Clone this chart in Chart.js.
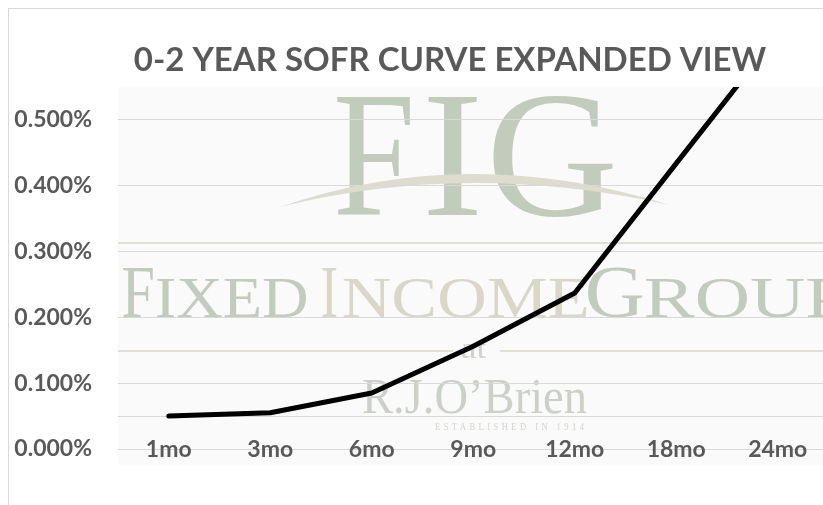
<!DOCTYPE html>
<html>
<head>
<meta charset="utf-8">
<script src="https://cdn.jsdelivr.net/npm/chart.js@4/dist/chart.umd.min.js"></script>
<style>
  html, body { margin: 0; padding: 0; background: #fff; overflow: hidden; }
  #wrap { position: absolute; left: 8px; top: 8px; width: 884px; height: 540px; border: 1px solid #d9d9d9; }
</style>
</head>
<body>
<div id="wrap"><canvas id="chart" width="884" height="540"></canvas></div>
<script>
// data
const tenors = ["1mo", "3mo", "6mo", "9mo", "12mo", "18mo", "24mo"];
const sofrRates = [0.050, 0.055, 0.085, 0.156, 0.237, 0.434, 0.630];
const yTicks = [0, 0.1, 0.2, 0.3, 0.4, 0.5];
const yMax = 0.55;

const textGray = "#595959";
const gridGray = "#d9d9d9";
const sage = "#c1ccbc";
const beige = "#dad7c8";
const serif = '"Liberation Serif", "DejaVu Serif", serif';

// draw text so its ink fits between inkLeft and inkLeft + inkWidth
function drawInk(ctx, text, font, color, inkLeft, baseline, inkWidth, spacing) {
  ctx.save();
  ctx.font = font;
  if (spacing) ctx.letterSpacing = spacing;
  const m = ctx.measureText(text);
  const w = m.actualBoundingBoxLeft + m.actualBoundingBoxRight;
  ctx.translate(inkLeft, baseline);
  ctx.scale(inkWidth / w, 1);
  ctx.fillStyle = color;
  ctx.textAlign = "left";
  ctx.textBaseline = "alphabetic";
  ctx.fillText(text, m.actualBoundingBoxLeft, 0);
  ctx.restore();
}

// the FIG logo sitting behind the plot area
const watermark = {
  id: "watermark",
  afterLayout(chart) {
    // title is centred on the whole (cropped) chart box, not on the plot
    const t = chart.titleBlock;
    if (t) { t.left = 0; t.right = chart.width - 2; t.width = t.right; }
  },
  beforeDraw(chart) {
    const ctx = chart.ctx;
    const ca = chart.chartArea;
    const y = chart.scales.y;
    ctx.save();
    ctx.fillStyle = "#fafafa";
    ctx.fillRect(ca.left, ca.top, chart.width - ca.left, 456 - ca.top);

    // big FIG
    drawInk(ctx, "F", "180px " + serif, sage, 328, 206, 73);
    drawInk(ctx, "I", "180px " + serif, sage, 419, 206, 49);
    drawInk(ctx, "G", "180px " + serif, sage, 484, 206, 120);

    // swoosh
    ctx.fillStyle = "#dedbcf";
    ctx.beginPath();
    ctx.moveTo(271, 198);
    ctx.quadraticCurveTo(458, 133, 661, 196);
    ctx.quadraticCurveTo(458, 151, 271, 198);
    ctx.fill();

    // thin logo rules
    ctx.strokeStyle = "#e3dfd3";
    ctx.lineWidth = 2;
    ctx.beginPath();
    ctx.moveTo(ca.left, 234); ctx.lineTo(chart.width, 234);
    ctx.moveTo(ca.left, 342); ctx.lineTo(444, 342);
    ctx.moveTo(491, 342); ctx.lineTo(chart.width, 342);
    ctx.stroke();

    // FIXEDINCOMEGROUP in small caps
    drawInk(ctx, "F", "74px " + serif, sage, 114, 308, 30);
    drawInk(ctx, "IXED", "56px " + serif, sage, 148, 308, 150);
    drawInk(ctx, "I", "74px " + serif, beige, 313, 308, 15);
    drawInk(ctx, "NCOME", "56px " + serif, beige, 334, 308, 244);
    drawInk(ctx, "G", "74px " + serif, sage, 579, 308, 55);
    drawInk(ctx, "ROUP", "56px " + serif, sage, 636, 308, 200);

    drawInk(ctx, "at", "30px " + serif, "#cdd3c8", 453, 349, 25);
    drawInk(ctx, "R.J.O\u2019Brien", "50px " + serif, "#cbd1c6", 354, 404, 224);
    drawInk(ctx, "ESTABLISHED IN 1914", "10px " + serif, "#d2d6cd", 426, 421, 149, "4px");

    // faint rule at 0.05%
    const y05 = Math.round(y.getPixelForValue(0.05)) + 0.5;
    ctx.strokeStyle = gridGray;
    ctx.lineWidth = 1;
    ctx.beginPath();
    ctx.moveTo(ca.left, y05); ctx.lineTo(ca.right, y05);
    ctx.stroke();
    ctx.restore();
  }
};

new Chart(document.getElementById("chart").getContext("2d"), {
  type: "line",
  data: {
    labels: tenors,
    datasets: [{
      label: "SOFR",
      data: sofrRates,
      borderColor: "#000000",
      borderWidth: 5,
      pointRadius: 0,
      tension: 0,
      borderJoinStyle: "round",
      borderCapStyle: "round",
      fill: false
    }]
  },
  options: {
    responsive: false,
    animation: false,
    layout: { padding: { left: 0, right: 64.5, top: 0, bottom: 70 } },
    plugins: {
      legend: { display: false },
      tooltip: { enabled: false },
      title: {
        display: true,
        text: "0-2 YEAR SOFR CURVE EXPANDED VIEW",
        color: textGray,
        font: { family: "Lato", size: 33, weight: "bold" },
        padding: { top: 32, bottom: 6.4 }
      }
    },
    scales: {
      x: {
        offset: true,
        grid: { display: false },
        border: { display: false },
        ticks: {
          color: textGray,
          font: { family: "Lato", size: 23, weight: "bold" },
          mirror: true,
          padding: -14,
          maxRotation: 0
        },
        afterFit(scale) { scale.height = 30; }
      },
      y: {
        min: 0,
        max: yMax,
        grid: { color: gridGray, lineWidth: 1, drawTicks: false },
        border: { display: false },
        ticks: {
          color: textGray,
          font: { family: "Lato", size: 23, weight: "bold" },
          padding: 26,
          callback: v => v.toFixed(3) + "%"
        },
        afterBuildTicks(scale) { scale.ticks = yTicks.map(v => ({ value: v })); },
        afterFit(scale) { scale.width = 109; }
      }
    }
  },
  plugins: [watermark]
});
</script>
</body>
</html>
